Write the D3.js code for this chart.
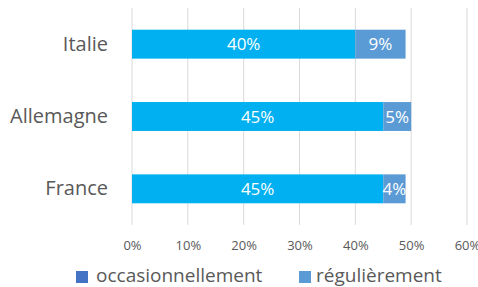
<!DOCTYPE html>
<html>
<head>
<meta charset="utf-8">
<script src="https://cdn.jsdelivr.net/npm/d3@7"></script>
<style>
  body { margin: 0; background: #fff; }
  svg { display: block; font-family: "Open Sans", sans-serif; }
</style>
</head>
<body>
<svg id="chart" width="478" height="287"></svg>
<script>
'use strict';

var categories = ['Italie', 'Allemagne', 'France'];
var occasionnellement = [40, 45, 45];
var regulierement = [9, 5, 4];
var seriesNames = ['occasionnellement', 'régulièrement'];
var tickValues = [0, 10, 20, 30, 40, 50, 60];

var barColors = ['#00b0f0', '#5b9bd5'];
var legendColors = ['#4472c4', '#5b9bd5'];

var svg = d3.select('#chart');
var margin = {left: 132, right: 11, top: 8, bottom: 62};
var width = 478 - margin.left - margin.right;
var height = 287 - margin.top - margin.bottom;

var x = d3.scaleLinear().domain([0, 60]).range([0, width]);
var y = d3.scaleBand().domain(categories).range([0, height]).paddingInner(0.6).paddingOuter(0.3);

var g = svg.append('g').attr('transform', 'translate(' + margin.left + ',' + margin.top + ')');

// gridlines
g.selectAll('line.grid').data(tickValues).enter().append('line')
  .attr('class', 'grid')
  .attr('x1', function(d) { return x(d); })
  .attr('x2', function(d) { return x(d); })
  .attr('y1', 0).attr('y2', height)
  .attr('stroke', '#d9d9d9').attr('stroke-width', 1);

// stacked data
var rows = categories.map(function(c, i) {
  return {cat: c, occasionnellement: occasionnellement[i], 'régulièrement': regulierement[i]};
});
var stack = d3.stack().keys(seriesNames)(rows);

stack.forEach(function(layer, k) {
  var lg = g.append('g');
  lg.selectAll('rect').data(layer).enter().append('rect')
    .attr('x', function(d) { return x(d[0]); })
    .attr('y', function(d) { return y(d.data.cat); })
    .attr('width', function(d) { return x(d[1]) - x(d[0]); })
    .attr('height', y.bandwidth())
    .attr('fill', barColors[k]);
  lg.selectAll('text').data(layer).enter().append('text')
    .attr('x', function(d) { return (x(d[0]) + x(d[1])) / 2; })
    .attr('y', function(d) { return y(d.data.cat) + y.bandwidth() / 2; })
    .attr('dy', '0.37em')
    .attr('text-anchor', 'middle')
    .attr('fill', '#fff')
    .attr('font-size', 17)
    .text(function(d) { return (d[1] - d[0]) + '%'; });
});

// category labels
g.selectAll('text.cat').data(categories).enter().append('text')
  .attr('class', 'cat')
  .attr('x', -24)
  .attr('y', function(d) { return y(d) + y.bandwidth() / 2; })
  .attr('dy', '0.33em')
  .attr('text-anchor', 'end')
  .attr('fill', '#595959')
  .attr('font-size', 20)
  .text(function(d) { return d; });

// x axis ticks
var xAxis = d3.axisBottom(x).tickValues(tickValues).tickSize(0).tickPadding(16)
  .tickFormat(function(d) { return d + '%'; });
var ax = g.append('g').attr('transform', 'translate(0,' + height + ')').call(xAxis);
ax.select('.domain').remove();
ax.selectAll('text').attr('fill', '#595959').attr('font-size', 13)
  .style('font-family', '"Open Sans", sans-serif');

// legend
var legendX = [76, 299];
seriesNames.forEach(function(name, k) {
  var lg = svg.append('g').attr('transform', 'translate(' + legendX[k] + ',271)');
  lg.append('rect').attr('width', 12).attr('height', 12).attr('fill', legendColors[k]);
  lg.append('text').attr('x', k === 0 ? 20 : 17).attr('y', 10.5)
    .attr('fill', '#595959').attr('font-size', 19).text(name);
});
</script>
</body>
</html>
